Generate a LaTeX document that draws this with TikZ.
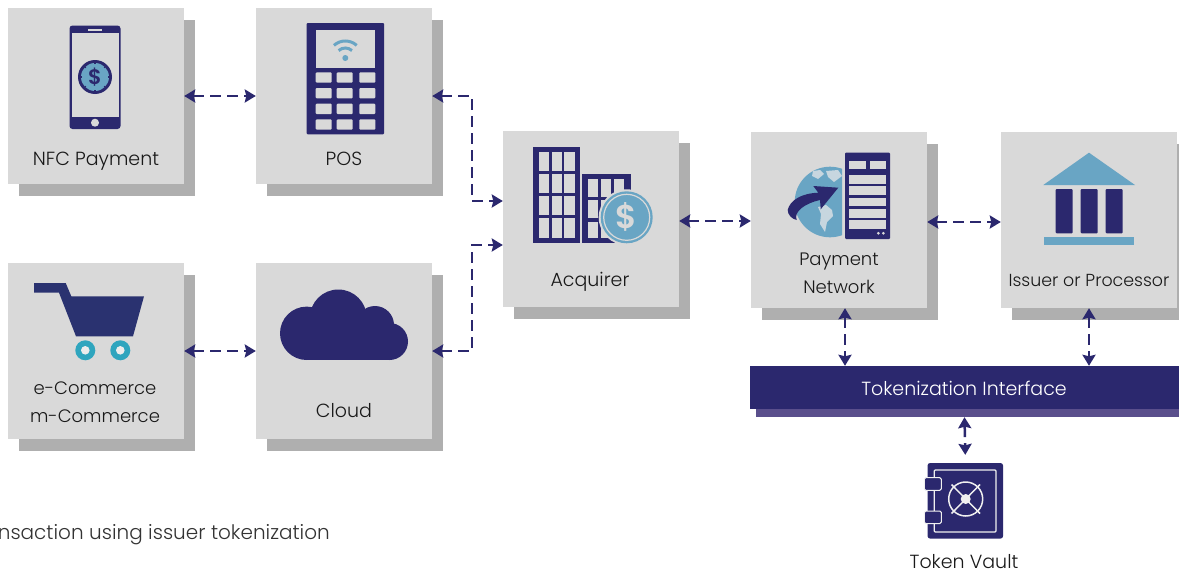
\documentclass[tikz,border=0pt]{standalone}
\usepackage{fontspec}
\setmainfont{Poppins Light}
\usetikzlibrary{arrows.meta,shadows}
\definecolor{navy}{HTML}{2B286E}
\definecolor{cartblue}{HTML}{2A3270}
\definecolor{steel}{HTML}{69A5C4}
\definecolor{teal}{HTML}{2FA5BE}
\definecolor{land}{HTML}{C7D6DF}
\definecolor{cardgray}{HTML}{D9D9D9}
\definecolor{shadegray}{HTML}{AFAFAF}
\definecolor{barshade}{HTML}{5A4F8C}
\tikzset{
 card/.style={fill=cardgray,minimum size=176pt,inner sep=0pt,
  drop shadow={shadow xshift=11pt,shadow yshift=-11.5pt,opacity=1,fill=shadegray}},
 caption/.style={font=\fontsize{19}{23}\selectfont,text=black!90,align=center,inner sep=0pt,anchor=base},
 flow/.style={navy,line width=2.5pt,dash pattern=on 11pt off 6pt,{Stealth[length=11pt,width=13pt,inset=1.5pt]}-{Stealth[length=11pt,width=13pt,inset=1.5pt]}}
}
\begin{document}
\begin{tikzpicture}
[x=1pt,y=-1pt,node distance=248pt]
 \useasboundingbox (0,0) rectangle (1179,573);

 \node (NFC) [card] at (96,96) {};
 \node (POS) [card,right of=NFC] {};
 \node (Shop) [card,below of=NFC,node distance=255pt] {};
 \node (Cloud) [card,right of=Shop] {};
 \node (Acquirer) [card] at (591,219) {};
 \node (Network) [card,right of=Acquirer] at (591,220) {};
 \node (Issuer) [card,right of=Network,node distance=250pt] {};
 \node (Interface) [fill=navy,minimum width=429pt,minimum height=43pt,inner sep=0pt,
  drop shadow={shadow xshift=6pt,shadow yshift=-8pt,opacity=1,fill=barshade}] at (964.5,387.5) {};
 \node (Vault) [fill=navy,rounded corners=2.5pt,minimum size=75.5pt,inner sep=0pt] at (965.3,500.8) {};

 \node (NFCtext) [caption] at (96,165.5) {NFC Payment};
 \node (POStext) [caption] at (344,165.5) {POS};
 \node (Shoptext) [caption,anchor=center,font=\fontsize{18}{23}\selectfont] at (95,402) {e-Commerce\\[5pt]m-Commerce};
 \node (Cloudtext) [caption] at (344,417) {Cloud};
 \node (Acquirertext) [caption] at (590,286) {Acquirer};
 \node (Networktext) [caption,anchor=center,font=\fontsize{18}{23}\selectfont] at (839,273) {Payment\\[5pt]Network};
 \node (Issuertext) [caption,font=\fontsize{17.4}{23}\selectfont] at (1089,286.5) {Issuer or Processor};
 \node (Interfacetext) [caption,text=white] at (964,395.5) {Tokenization Interface};
 \node (Vaulttext) [caption] at (964,568) {Token Vault};
 \node (Note) [caption,anchor=base east,text=black!80,font=\fontsize{20}{24}\selectfont] at (330,539.5) {nsaction using issuer tokenization};

 \coordinate (TopBend) at (472,96);
 \coordinate (LowBend) at (472,351);

 \draw[flow] (NFC) -- (POS);
 \draw[flow] (Shop) -- (Cloud);
 \draw[flow] (POS.east) -- (TopBend) |- ([yshift=18pt]Acquirer.west);
 \draw[flow] (Cloud.east) -- (LowBend) |- ([yshift=-26pt]Acquirer.west);
 \draw[flow] ([yshift=-2pt]Acquirer.east) -- ([yshift=-1pt]Network.west);
 \draw[flow] ([yshift=-2pt]Network.east) -- ([yshift=-2pt]Issuer.west);
 \draw[flow] ([xshift=6pt]Network.south) -- ([xshift=-119.5pt]Interface.north);
 \draw[flow] (Issuer.south) -- ([xshift=124.5pt]Interface.north);
 \draw[flow] ([yshift=-8pt]Interface.south) -- ([yshift=8pt]Vault.north);

 % phone
 \fill[navy,rounded corners=3pt] (69.5,25.5) rectangle (120.5,129);
 \fill[cardgray] (72,33) rectangle (118.5,117);
 \fill[cardgray] (88.3,29) rectangle (102.3,31);
 \fill[cardgray] (95,122.7) circle (4pt);
 \fill[navy] (95,77) circle (17pt);
 \fill[steel] (95,77) circle (14pt);
 \foreach \a in {0,45,...,315}
  \draw[navy,line width=1.2pt] ([shift={(\a:13pt)}]95,77) -- ([shift={(\a:15pt)}]95,77);
 \node (PhoneCoin) [text=navy,inner sep=0pt,font=\fontsize{21}{21}\selectfont\bfseries] at (95,77) {\$};

 % terminal
 \fill[navy,rounded corners=1pt] (306.7,23) rectangle (384,134.3);
 \fill[cardgray] (315.7,30) rectangle (375.3,68.3);
 \foreach \x in {315.7,336.7,359.3}
  \foreach \y in {72.3,88,103.7,119.3}
   \fill[cardgray,rounded corners=1pt] (\x,\y) rectangle ++(16,10.4);
 \fill[steel] (345.3,58) circle (3pt);
 \draw[steel,line width=3pt] ([shift={(48:10pt)}]345.3,58) arc[start angle=48,end angle=132,radius=10pt];
 \draw[steel,line width=3pt] ([shift={(48:17pt)}]345.3,58) arc[start angle=48,end angle=132,radius=17pt];

 % cart
 \fill[cartblue] (34,283) -- (65.7,283) -- (71.3,296.3) -- (144,296.3) -- (133,336.3)
  -- (76,336.3) -- (59,292.7) -- (34,292.7) -- cycle;
 \foreach \x in {85.3,120.3} {
  \fill[teal] (\x,350.3) circle (10pt);
  \fill[cardgray!50!white] (\x,350.3) circle (4.3pt);
 }

 % cloud
 \fill[navy] (306.7,333.3) circle (26.7pt);
 \fill[navy] (338.3,318) circle (28.5pt);
 \fill[navy] (375,325) circle (19pt);
 \fill[navy] (389.5,341.5) circle (18.5pt);
 \fill[navy] (306.7,322) rectangle (389.5,360);

 % buildings
 \fill[navy] (533.3,147.3) rectangle (580,242.7);
 \foreach \x in {538.7,551.5,564.3}
  \foreach \y/\h in {152.3/18.7,174.3/18.7,196.3/18.7,217.7/20}
   \fill[cardgray] (\x,\y) rectangle ++(10.4,\h);
 \fill[navy] (582.3,174.3) rectangle (631,242.7);
 \foreach \x in {588.3,601,614}
  \foreach \y/\h in {179.3/17.4,200/18.3,221.7/16}
   \fill[cardgray] (\x,\y) rectangle ++(10,\h);
 \fill[cardgray] (626.7,217.3) circle (28pt);
 \fill[steel] (626.7,217.3) circle (26pt);
 \draw[cardgray,line width=1.2pt] (626.7,217.3) circle (23pt);
 \node (AcquirerCoin) [text=cardgray,inner sep=0pt,font=\fontsize{33}{33}\selectfont\bfseries] at (626.7,217.3) {\$};

 % globe and server
 \begin{scope}
  \clip (790,160) rectangle (842,240);
  \fill[steel] (830,202) circle (35.3pt);
  \fill[land] (813,171) -- (820,170) -- (824,174) -- (818,179) -- (812,176) -- cycle;
  \fill[land] (826,171) -- (838,170) -- (842,176) -- (834,182) -- (828,177) -- cycle;
  \fill[land] (818,207) -- (826,205) -- (832,210) -- (833,216) -- (827,222) -- (825,232)
   -- (820,224) -- (821,214) -- cycle;
 \end{scope}
 \fill[navy] (838.3,187.7) -- (813.3,186) -- (818.3,192.7)
  .. controls (801.7,193.3) and (790,200) .. (787.7,210)
  .. controls (787.7,215) and (792,219) .. (796.7,220)
  .. controls (793.3,211.7) and (805,203.3) .. (820,200) -- (820.7,209.3) -- cycle;
 \fill[navy,rounded corners=1pt] (845,152.7) rectangle (890,239);
 \fill[cardgray] (849.3,160.7) rectangle (865.7,169.3);
 \fill[cardgray] (869.7,160.7) rectangle (886,169.3);
 \foreach \y in {175,186,197.5,209,220.3}
  \fill[cardgray] (849.3,\y) rectangle (886,\y+8.5);
 \fill[cardgray] (878.3,233.3) circle (1.5pt);
 \fill[cardgray] (883.3,233.3) circle (1.5pt);

 % bank
 \fill[steel] (1089,152.7) -- (1135,185) -- (1043.3,185) -- cycle;
 \foreach \x in {1055.7,1080.7,1105.7}
  \fill[navy,rounded corners=1pt] (\x,189) rectangle ++(17,44.3);
 \fill[steel] (1044,236.7) rectangle (1134,245);

 % safe
 \draw[cardgray!40!white,line width=1.3pt,rounded corners=1pt] (934.3,470) rectangle (996,532);
 \foreach \y in {477.7,511}
  \draw[fill=navy,draw=cardgray!40!white,line width=1pt,rounded corners=1.5pt] (924.3,\y) rectangle ++(17,12.6);
 \draw[cardgray!40!white,line width=1.5pt] (965.7,499) circle (17pt);
 \draw[cardgray!40!white,line width=1.5pt] (951.5,484.5) -- (980,513.5);
 \draw[cardgray!40!white,line width=1.5pt] (980,484.5) -- (951.5,513.5);
 \fill[cardgray!40!white] (965.7,499) circle (5pt);
\end{tikzpicture}
\end{document}
